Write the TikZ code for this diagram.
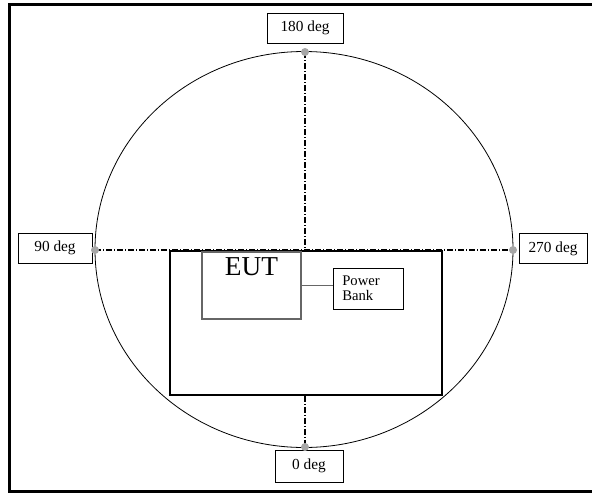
\documentclass[tikz,border=0pt]{standalone}
\usepackage{fontspec}
\setmainfont{Liberation Serif}

\begin{document}
\begin{tikzpicture}[x=0.75pt,y=-0.75pt,
    degbox/.style={draw,line width=0.6pt,minimum height=22.5pt,inner sep=0pt,font=\fontsize{11.5}{13}\selectfont},
    axisline/.style={line width=1.1pt,dash pattern=on 4.5pt off 1.5pt on 0.75pt off 1.5pt},
    mark dot/.style={fill=black!35}]
  \useasboundingbox (0,0) rectangle (592,493);

  % outer frame (right side runs off the page)
  \draw[line width=2.4pt] (600,4.5) -- (9.5,4.5) -- (9.5,491.5) -- (600,491.5);

  % turntable
  \draw[line width=0.6pt] (304,249.5) ellipse [x radius=209, y radius=198];

  \coordinate (top) at (305,52);
  \coordinate (bot) at (305,447);
  \coordinate (lft) at (95,250);
  \coordinate (rgt) at (513,250);
  \coordinate (ctr) at (305,250);

  \node[degbox,minimum width=57pt] (d180) at (305,28) {180 deg};
  \node[degbox,minimum width=51pt,minimum height=24pt] (d0) at (309,466) {0 deg};
  \node[degbox,minimum width=55.5pt] (d90) at (55,248) {90 deg};
  \node[degbox,minimum width=51pt,minimum height=23pt] (d270) at (553,248.5) {270 deg};

  % table and equipment
  \node[draw,line width=1.4pt,minimum width=204pt,minimum height=108pt,inner sep=0pt] (table) at (306,323) {};
  \node[draw=black!60,line width=0.8pt,minimum width=74.25pt,minimum height=50.25pt,inner sep=0pt] (eut) at (251.5,285.5) {};
  \node[font=\fontsize{20.5}{20}\selectfont,anchor=north,inner sep=0pt] (euttext) at ([yshift=-4.5pt]eut.north) {EUT};
  \node[draw,line width=0.6pt,minimum width=52.5pt,minimum height=30.75pt,inner xsep=7pt,inner ysep=0pt,
        text width=38.5pt,align=left,font=\fontsize{11}{11.5}\selectfont] (bank) at (368,288.5) {Power\\Bank};

  \draw[black!60,line width=0.8pt] (eut.east) -- (eut.east -| bank.west);

  % axes
  \draw[axisline] (lft) -- (rgt);
  \draw[axisline] (top) -- (ctr);
  \draw[axisline] (bot |- table.south) -- (bot);

  \foreach \p in {top,bot,lft,rgt}
    \fill[mark dot] (\p) circle [radius=4];
\end{tikzpicture}
\end{document}
